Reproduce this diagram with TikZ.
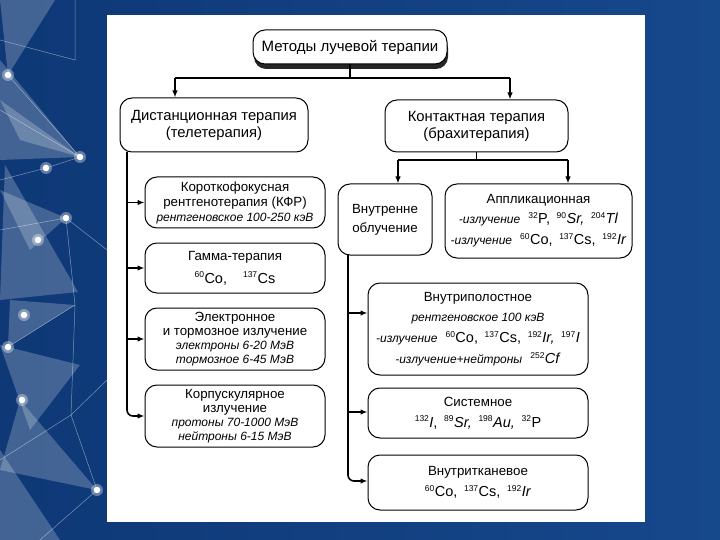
\documentclass[tikz,border=0pt]{standalone}
\usepackage{fontspec}
\setmainfont{Liberation Sans}
\usetikzlibrary{arrows.meta}
\definecolor{bgblue}{RGB}{14,56,118}
\definecolor{bgblue2}{RGB}{22,72,140}
\newcommand\isot[2]{\textsuperscript{\fontsize{8.5}{9}\selectfont #1}{\fontsize{14.5}{15}\selectfont #2}}
\newcommand\smit[1]{{\fontsize{12}{13.5}\selectfont\itshape #1}}
\begin{document}
\begin{tikzpicture}[x=1pt,y=-1pt,
  box/.style={draw, line width=1pt, rounded corners=12pt, fill=white, align=center, inner sep=2pt, font=\fontsize{13.3}{15}\selectfont},
  tight/.style={font=\fontsize{13.3}{14}\selectfont},
  head/.style={box, font=\fontsize{14.8}{17}\selectfont},
  ln/.style={line width=1.6pt},
  arr/.style={line width=1.6pt, -{Latex[length=7pt,width=5.5pt]}},
  tri/.style={fill=white, opacity=0.22},
  wl/.style={white, opacity=0.45, line width=0.5pt}]
\useasboundingbox (0,0) rectangle (720,540);
\shade[left color=bgblue, right color=bgblue2] (0,0) rectangle (720,540);
% decoration
\begin{scope}
\clip (0,0) rectangle (107,540);
\fill[tri] (0,0) -- (55,0) -- (8,75) -- cycle;
\fill[tri] (0,60) -- (80,157) -- (0,160) -- cycle;
\fill[tri] (0,100) -- (80,157) -- (20,140) -- cycle;
\fill[tri] (5,165) -- (78,292) -- (0,300) -- cycle;
\fill[tri] (0,190) -- (66,218) -- (30,250) -- cycle;
\fill[tri] (10,300) -- (75,305) -- (8,347) -- cycle;
\fill[tri] (0,345) -- (80,365) -- (30,430) -- cycle;
\fill[tri] (20,400) -- (97,490) -- (0,470) -- cycle;
\fill[tri] (0,450) -- (60,540) -- (0,540) -- cycle;
\draw[wl] (8,75) -- (80,157) -- (46,168) -- (0,180);
\draw[wl] (80,157) -- (0,110);
\draw[wl] (66,218) -- (0,230);
\draw[wl] (66,218) -- (75,305) -- (8,347);
\draw[wl] (75,305) -- (71,415) -- (97,490) -- (40,540);
\draw[wl] (71,415) -- (0,460);
\draw[wl] (75,0) -- (75,60) -- (0,40);
\draw[wl] (66,218) -- (107,250);
\draw[wl] (71,415) -- (107,380);
\foreach \p in {(8,75),(80,157),(46,168),(66,218),(38,240),(24,315),(8,347),(22,400),(97,490)}{
  \fill[white, opacity=0.35] \p circle (6);
  \fill[white] \p circle (3.3);
}
\end{scope}
% white panel
\fill[white] (107,15) rectangle (645,522);
% title
\fill[black!85, rounded corners=12pt] (254,36) rectangle (448,69);
\node[box, minimum width=194, minimum height=34, font=\fontsize{15}{17}\selectfont] (title) at (350,47) {Методы лучевой терапии};
% main branches
\node[head, minimum width=188, minimum height=54] (dist) at (214,125) {Дистанционная терапия\\(телетерапия)};
\node[head, minimum width=183, minimum height=52] (cont) at (476.5,126) {Контактная терапия\\(брахитерапия)};
% left column
\node[box, minimum width=180, minimum height=51] (kfr) at (235,202.5) {Короткофокусная\\рентгенотерапия (КФР)\\\smit{рентгеновское 100-250 кэВ}};
\node[box, minimum width=180, minimum height=50] (gamma) at (235,268) {Гамма-терапия\\[8pt]\isot{60}{Co,}\hspace{1.2em}\isot{137}{Cs}};
\node[box, tight, minimum width=180, minimum height=62] (elec) at (235,339) {Электронное\\и тормозное излучение\\\smit{электроны 6-20 МэВ}\\\smit{тормозное 6-45 МэВ}};
\node[box, tight, minimum width=180, minimum height=62] (korp) at (235,416) {Корпускулярное\\излучение\\\smit{протоны 70-1000 МэВ}\\\smit{нейтроны 6-15 МэВ}};
% right side
\node[box, minimum width=94, minimum height=71] (vnutr) at (385,219.5) {Внутренне\\[4pt]облучение};
\node[box, minimum width=187, minimum height=74] (appl) at (538.5,221) {Аппликационная\\[5pt]\smit{-излучение}\hspace{0.6em}\isot{32}{P,}\hspace{0.5em}\isot{90}{\textit{Sr,}}\hspace{0.5em}\isot{204}{\textit{Tl}}\\[6pt]\smit{-излучение}\hspace{0.6em}\isot{60}{Co,}\hspace{0.5em}\isot{137}{Cs,}\hspace{0.5em}\isot{192}{\textit{Ir}}};
\node[box, minimum width=220, minimum height=92] (vpol) at (478,329) {Внутриполостное\\[5pt]\smit{рентгеновское 100 кэВ}\\[6pt]\smit{-излучение}\hspace{0.6em}\isot{60}{Co,}\hspace{0.5em}\isot{137}{Cs,}\hspace{0.5em}\isot{192}{\textit{Ir,}}\hspace{0.5em}\isot{197}{\textit{I}}\\[6pt]\smit{-излучение+нейтроны}\hspace{0.6em}\isot{252}{\textit{Cf}}};
\node[box, minimum width=220, minimum height=50] (sist) at (478,413) {Системное\\[6pt]\isot{132}{\textit{I},}\hspace{0.5em}\isot{89}{\textit{Sr,}}\hspace{0.5em}\isot{198}{\textit{Au,}}\hspace{0.5em}\isot{32}{P}};
\node[box, minimum width=220, minimum height=55] (vtk) at (478,482.5) {Внутритканевое\\[6pt]\isot{60}{Co,}\hspace{0.5em}\isot{137}{Cs,}\hspace{0.5em}\isot{192}{\textit{Ir}}};
% connectors top
\coordinate (j0) at (350,78);
\coordinate (jl) at (175,78);
\coordinate (jr) at (510,78);
\draw[ln] (title.south) -- (j0);
\draw[ln] (jl) -- (jr);
\draw[arr] (jl) -- (jl |- dist.north);
\draw[arr] (jr) -- (jr |- cont.north);
% contact branch
\coordinate (kl) at (398,160);
\coordinate (kr) at (568,160);
\draw[ln] (cont.south) -- (cont.south |- kl);
\draw[ln] (kl) -- (kr);
\draw[arr] (kl) -- (kl |- vnutr.north);
\draw[arr] (kr) -- (kr |- appl.north);
% left trunk
\coordinate (t0) at (127,152);
\draw[arr, rounded corners=6pt] (t0) |- (korp.west);
\draw[arr] (t0 |- kfr.west) -- (kfr.west);
\draw[arr] (t0 |- gamma.west) -- (gamma.west);
\draw[arr] (t0 |- elec.west) -- (elec.west);
% right trunk
\coordinate (r0) at (348,255);
\coordinate (a1) at (348,313);
\coordinate (a2) at (348,412);
\coordinate (a3) at (348,481);
\draw[arr, rounded corners=6pt] (r0) |- (a3 -| vtk.west);
\draw[arr] (a1) -- (a1 -| vpol.west);
\draw[arr] (a2) -- (a2 -| sist.west);
\end{tikzpicture}
\end{document}
